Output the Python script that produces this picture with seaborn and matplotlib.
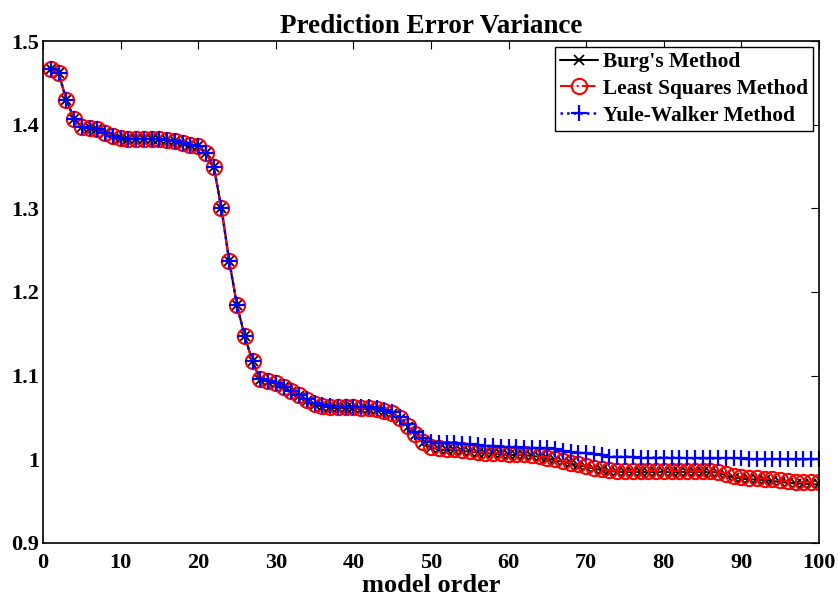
import numpy as np
import pandas as pd
import matplotlib
matplotlib.use("Agg")
import matplotlib.pyplot as plt
import seaborn as sns
from matplotlib.ticker import FixedLocator

orders = list(range(1, 101))

least_squares = [
    1.466, 1.462, 1.430, 1.407, 1.397, 1.396, 1.395, 1.390, 1.386, 1.384,
    1.383, 1.383, 1.383, 1.383, 1.383, 1.382, 1.380, 1.378, 1.376, 1.374,
    1.366, 1.350, 1.300, 1.237, 1.184, 1.147, 1.117, 1.096, 1.094, 1.091,
    1.087, 1.082, 1.077, 1.071, 1.066, 1.064, 1.063, 1.062, 1.062, 1.062,
    1.061, 1.061, 1.060, 1.058, 1.055, 1.049, 1.040, 1.030, 1.021, 1.015,
    1.013, 1.012, 1.012, 1.011, 1.010, 1.009, 1.008, 1.008, 1.007, 1.006,
    1.006, 1.006, 1.005, 1.004, 1.002, 1.000, 0.998, 0.996, 0.994, 0.992,
    0.990, 0.988, 0.987, 0.986, 0.986, 0.986, 0.986, 0.986, 0.986, 0.986,
    0.986, 0.986, 0.986, 0.986, 0.986, 0.986, 0.985, 0.983, 0.980, 0.979,
    0.978, 0.978, 0.977, 0.976, 0.975, 0.974, 0.973, 0.973, 0.973, 0.973,
]

burg = [
    1.466, 1.462, 1.430, 1.407, 1.397, 1.396, 1.395, 1.390, 1.386, 1.384,
    1.383, 1.383, 1.383, 1.383, 1.383, 1.382, 1.380, 1.378, 1.376, 1.374,
    1.366, 1.350, 1.300, 1.237, 1.184, 1.147, 1.117, 1.095, 1.093, 1.090,
    1.086, 1.081, 1.076, 1.070, 1.065, 1.063, 1.062, 1.061, 1.061, 1.061,
    1.060, 1.060, 1.059, 1.057, 1.054, 1.048, 1.039, 1.029, 1.020, 1.014,
    1.012, 1.011, 1.011, 1.010, 1.009, 1.008, 1.007, 1.007, 1.006, 1.005,
    1.005, 1.005, 1.004, 1.003, 1.001, 0.999, 0.997, 0.995, 0.993, 0.991,
    0.989, 0.987, 0.986, 0.985, 0.985, 0.985, 0.985, 0.985, 0.985, 0.985,
    0.985, 0.985, 0.985, 0.985, 0.985, 0.985, 0.984, 0.981, 0.978, 0.977,
    0.976, 0.976, 0.975, 0.974, 0.973, 0.972, 0.971, 0.971, 0.970, 0.970,
]

yule_walker = [
    1.466, 1.462, 1.430, 1.407, 1.397, 1.396, 1.395, 1.390, 1.386, 1.384,
    1.383, 1.383, 1.383, 1.383, 1.383, 1.382, 1.380, 1.378, 1.376, 1.374,
    1.366, 1.350, 1.300, 1.237, 1.184, 1.147, 1.117, 1.096, 1.094, 1.091,
    1.087, 1.082, 1.077, 1.072, 1.067, 1.065, 1.064, 1.063, 1.063, 1.063,
    1.062, 1.062, 1.061, 1.059, 1.056, 1.050, 1.042, 1.033, 1.026, 1.021,
    1.019, 1.019, 1.019, 1.018, 1.018, 1.017, 1.016, 1.016, 1.015, 1.015,
    1.015, 1.014, 1.014, 1.013, 1.013, 1.012, 1.010, 1.009, 1.008, 1.007,
    1.006, 1.005, 1.003, 1.003, 1.003, 1.003, 1.002, 1.002, 1.002, 1.002,
    1.002, 1.002, 1.001, 1.001, 1.001, 1.001, 1.001, 1.001, 1.001, 1.001,
    1.000, 1.000, 1.000, 1.000, 1.000, 1.000, 1.000, 1.000, 1.000, 1.000,
]

series_names = ["Burg's Method", "Least Squares Method", "Yule-Walker Method"]
x_ticks = [0, 10, 20, 30, 40, 50, 60, 70, 80, 90, 100]
y_ticks = [0.9, 1.0, 1.1, 1.2, 1.3, 1.4, 1.5]
y_tick_labels = ["0.9", "1", "1.1", "1.2", "1.3", "1.4", "1.5"]

sns.set_style("white")
plt.rcParams["font.family"] = ["Liberation Serif", "DejaVu Serif"]
plt.rcParams["font.weight"] = "bold"
plt.rcParams["text.color"] = "black"
plt.rcParams["axes.labelcolor"] = "black"

fig = plt.figure(figsize=(8.38, 5.97), dpi=100)
ax = fig.add_axes([0.0513, 0.0905, 0.9260, 0.8408])

df = pd.DataFrame({"order": orders, "burg": burg, "ls": least_squares, "yw": yule_walker})

sns.lineplot(data=df, x="order", y="burg", ax=ax, color="black", linestyle="-",
             linewidth=1.5, marker="x", markersize=7.5, markeredgewidth=1.3,
             markeredgecolor="black", label=series_names[0])
sns.lineplot(data=df, x="order", y="ls", ax=ax, color="red", linestyle="-.",
             linewidth=1.5, marker="o", markersize=11, markerfacecolor="none",
             markeredgecolor="red", markeredgewidth=1.5, label=series_names[1])
sns.lineplot(data=df, x="order", y="yw", ax=ax, color="blue", linestyle=":",
             linewidth=1.8, marker="+", markersize=11.5, markeredgewidth=1.6,
             markeredgecolor="blue", label=series_names[2])

ax.set_xlim(0, 100)
ax.set_ylim(0.9, 1.5)
ax.xaxis.set_major_locator(FixedLocator(x_ticks))
ax.set_yticks(y_ticks)
ax.set_yticklabels(y_tick_labels)
ax.set_xticklabels([str(t) for t in x_ticks])

for s in ax.spines.values():
    s.set_visible(True)
    s.set_color("black")
    s.set_linewidth(1.2)

ax.tick_params(axis="both", which="both", direction="in", top=True, right=True,
               length=6, width=0.8, labelsize=16, colors="black")
ax.tick_params(axis="x", pad=7.2)
ax.tick_params(axis="y", pad=2.8)
for lab in ax.get_xticklabels() + ax.get_yticklabels():
    lab.set_fontweight("bold")

ax.set_title("Prediction Error Variance", fontsize=19.5, fontweight="bold", pad=6,
             color="black")
ax.set_xlabel("model order", fontsize=19, fontweight="bold", labelpad=1,
              color="black")
ax.set_ylabel("")

leg = ax.legend(loc="upper right", fontsize=15.4, frameon=True, fancybox=False,
                borderpad=0.22, labelspacing=0.32, handlelength=1.8,
                handletextpad=0.2, borderaxespad=0.3)
leg.get_frame().set_edgecolor("black")
leg.get_frame().set_linewidth(1.0)
leg.get_frame().set_alpha(1.0)
for t in leg.get_texts():
    t.set_fontweight("bold")
    t.set_color("black")

fig.savefig("out.png", dpi=100)
